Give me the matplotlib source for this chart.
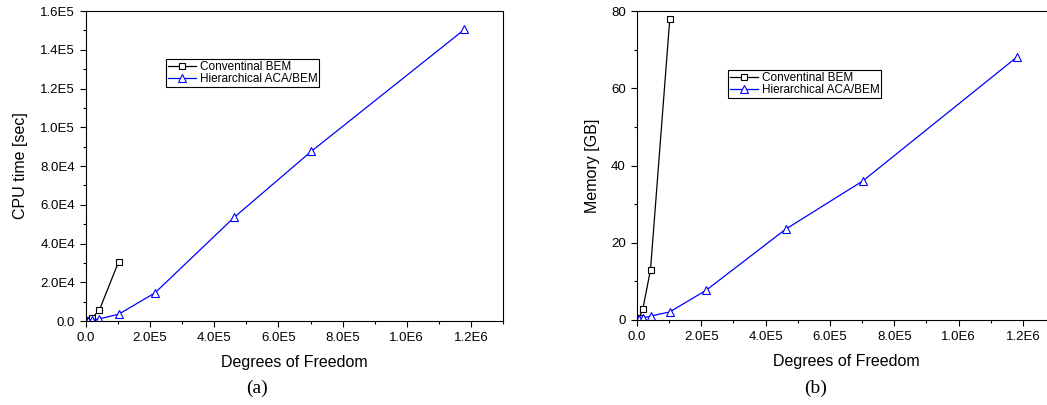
import numpy as np
import matplotlib
matplotlib.use("Agg")
import matplotlib.pyplot as plt
from matplotlib.ticker import MultipleLocator, FuncFormatter

# values
dof_conv = [2.5e3, 6.5e3, 1.8e4, 4.2e4, 1.02e5]
dof_aca = [2.5e3, 6.5e3, 1.8e4, 4.2e4, 1.02e5, 2.15e5, 4.62e5, 7.02e5, 1.18e6]

cpu_conv = [150, 350, 1300, 5700, 30700]
cpu_aca = [100, 250, 600, 1100, 3500, 14500, 53500, 87500, 150500]

mem_conv = [0.2, 0.5, 2.8, 13.0, 78.0]
mem_aca = [0.1, 0.3, 0.5, 1.0, 2.1, 7.7, 23.5, 36.0, 68.0]

labels = ["Conventinal BEM", "Hierarchical ACA/BEM"]

plt.rcParams["font.family"] = ["Liberation Sans", "DejaVu Sans"]


def sci(v, pos=None):
    if v == 0:
        return "0.0"
    e = int(np.floor(np.log10(abs(v)) + 1e-9))
    return "%.1fE%d" % (v / 10 ** e, e)


def style_axes(ax):
    ax.tick_params(direction="out", labelsize=9.5, width=0.8, length=4.5, pad=3.5, top=False, right=False)
    ax.tick_params(which="minor", direction="out", width=0.8, length=2.5, top=False, right=False)
    for s in ax.spines.values():
        s.set_linewidth(0.8)
    ax.set_xlim(0, 1.3e6)
    ax.xaxis.set_major_locator(MultipleLocator(2e5))
    ax.xaxis.set_minor_locator(MultipleLocator(1e5))
    ax.xaxis.set_major_formatter(FuncFormatter(sci))
    ax.set_xlabel("Degrees of Freedom", fontsize=11.5, labelpad=8)


def add_legend(ax, anchor):
    leg = ax.legend(loc="upper left", bbox_to_anchor=anchor, bbox_transform=fig.transFigure,
                    fontsize=8.5, frameon=True, fancybox=False, edgecolor="black", framealpha=1,
                    handlelength=2.4, handletextpad=0.3, borderpad=0.15, labelspacing=0.05,
                    borderaxespad=0)
    leg.get_frame().set_linewidth(0.8)


fig = plt.figure(figsize=(10.47, 4.05), dpi=100)

ax1 = fig.add_axes([0.0821, 0.2074, 0.3983, 0.7654])
ax1.plot(dof_conv, cpu_conv, color="black", lw=0.9, marker="s", ms=5,
         mfc="white", mec="black", mew=0.8, label=labels[0])
ax1.plot(dof_aca, cpu_aca, color="blue", lw=0.9, marker="^", ms=6,
         mfc="white", mec="blue", mew=0.8, label=labels[1])
style_axes(ax1)
ax1.set_ylim(0, 1.6e5)
ax1.yaxis.set_major_locator(MultipleLocator(2e4))
ax1.yaxis.set_minor_locator(MultipleLocator(1e4))
ax1.yaxis.set_major_formatter(FuncFormatter(sci))
ax1.set_ylabel("CPU time [sec]", fontsize=11.5, labelpad=9)
add_legend(ax1, (0.1585, 0.8543))
fig.text(0.245, 0.042, "(a)", fontsize=14, family="Liberation Serif", ha="center", va="center")

ax2 = fig.add_axes([0.6084, 0.2099, 0.3994, 0.7629])
ax2.plot(dof_conv, mem_conv, color="black", lw=0.9, marker="s", ms=5,
         mfc="white", mec="black", mew=0.8, label=labels[0])
ax2.plot(dof_aca, mem_aca, color="blue", lw=0.9, marker="^", ms=6,
         mfc="white", mec="blue", mew=0.8, label=labels[1])
style_axes(ax2)
ax2.set_ylim(0, 80)
ax2.yaxis.set_major_locator(MultipleLocator(20))
ax2.yaxis.set_minor_locator(MultipleLocator(10))
ax2.set_ylabel("Memory [GB]", fontsize=11.5, labelpad=8)
add_legend(ax2, (0.6953, 0.8272))
fig.text(0.779, 0.042, "(b)", fontsize=14, family="Liberation Serif", ha="center", va="center")

fig.savefig("out.png", dpi=100)
